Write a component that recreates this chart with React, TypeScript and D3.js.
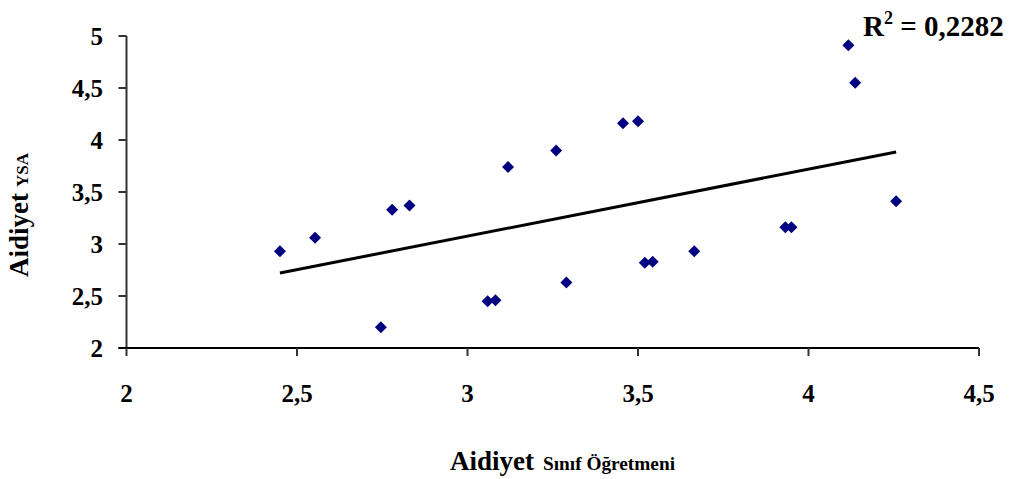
import React from 'react';
import * as d3 from 'd3';

// data
const sinifOgretmeni = [2.45, 2.553, 2.779, 2.83, 2.746, 3.119, 3.26, 3.059, 3.082, 3.29, 3.456, 3.5, 3.52, 3.543, 3.665, 3.932, 3.95, 4.117, 4.137, 4.257];
const ysa = [2.93, 3.06, 3.33, 3.37, 2.2, 3.74, 3.9, 2.45, 2.46, 2.63, 4.16, 4.18, 2.82, 2.83, 2.93, 3.16, 3.16, 4.91, 4.55, 3.41];
const xTicks = [2, 2.5, 3, 3.5, 4, 4.5];
const yTicks = [2, 2.5, 3, 3.5, 4, 4.5, 5];
const rSquared = '0,2282';

const fmt = (v: number) => String(v).replace('.', ',');

export default function App() {
  const width = 1014;
  const height = 479;
  const margin = {top: 36, right: 35, bottom: 131, left: 126.5};

  const xScale = d3.scaleLinear().domain([2, 4.5]).range([margin.left, width - margin.right]);
  const yScale = d3.scaleLinear().domain([2, 5]).range([height - margin.bottom, margin.top]);

  // least squares trend line
  const mx = d3.mean(sinifOgretmeni) as number;
  const my = d3.mean(ysa) as number;
  let sxy = 0, sxx = 0;
  sinifOgretmeni.forEach((x, i) => {
    sxy += (x - mx) * (ysa[i] - my);
    sxx += (x - mx) * (x - mx);
  });
  const slope = sxy / sxx;
  const intercept = my - slope * mx;
  const [x0, x1] = d3.extent(sinifOgretmeni) as [number, number];
  const trend = d3.line<number>()
    .x(d => xScale(d))
    .y(d => yScale(intercept + slope * d))([x0, x1]);

  const diamond = 'M0,-6L6,0L0,6L-6,0Z';
  const font = '"Liberation Serif", "Times New Roman", serif';
  const y0 = yScale(2);

  return (
    <svg width={width} height={height} style={{position: 'absolute', left: 0, top: 0, background: '#fff'}}
      fontFamily={font} fontWeight="bold">
      {/* y axis */}
      <line x1={xScale(2)} x2={xScale(2)} y1={yScale(5)} y2={y0} stroke="#333" strokeWidth={2} />
      {yTicks.map(t => (
        <g key={'y' + t}>
          <line x1={xScale(2) - 8} x2={xScale(2)} y1={yScale(t)} y2={yScale(t)} stroke="#333" strokeWidth={2} />
          <text x={103} y={yScale(t)} dy="0.34em" textAnchor="end" fontSize={25}>{fmt(t)}</text>
        </g>
      ))}
      {/* x axis */}
      <line x1={xScale(2) - 8} x2={xScale(4.5)} y1={y0} y2={y0} stroke="#000" strokeWidth={2} />
      {xTicks.map(t => (
        <g key={'x' + t}>
          <line x1={xScale(t)} x2={xScale(t)} y1={y0} y2={y0 + 8} stroke="#333" strokeWidth={2} />
          <text x={xScale(t)} y={402} textAnchor="middle" fontSize={25}>{fmt(t)}</text>
        </g>
      ))}

      {/* points */}
      {sinifOgretmeni.map((x, i) => (
        <path key={i} d={diamond} transform={`translate(${xScale(x)},${yScale(ysa[i])})`} fill="#000080" />
      ))}

      {/* trend */}
      <path d={trend ?? ''} fill="none" stroke="#000" strokeWidth={3} />

      <text x={863} y={36} fontSize={29}>
        R<tspan fontSize={18} dy={-12}>2</tspan><tspan dy={12}> = {rSquared}</tspan>
      </text>

      {/* axis titles */}
      <text x={450} y={470} fontSize={27}>Aidiyet</text>
      <text x={543} y={470} fontSize={18} textLength={132} lengthAdjust="spacingAndGlyphs">Sınıf Öğretmeni</text>
      <text transform="translate(28,277) rotate(-90)" fontSize={27}>
        Aidiyet<tspan fontSize={17} dx={6}>YSA</tspan>
      </text>
    </svg>
  );
}
